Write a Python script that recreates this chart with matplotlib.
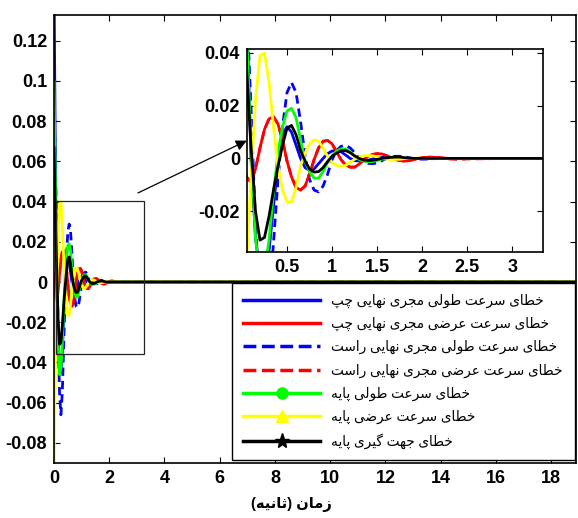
import matplotlib
matplotlib.use('Agg')
import matplotlib.pyplot as plt
import numpy as np
from matplotlib.lines import Line2D
from matplotlib.patches import Rectangle

plt.rcParams['font.family'] = ['Liberation Sans', 'DejaVu Sans']
plt.rcParams['axes.unicode_minus'] = False

# time samples (s)
t = np.concatenate([np.round(np.arange(0, 2.001, 0.05), 2), [2.1, 2.2, 2.3, 2.4, 2.5, 3.0, 19.0]])

# series
v_left_lon = [0.15, 0.06, 0.0, -0.03, -0.043, -0.045, -0.035, -0.018, -0.002, 0.009,
              0.012, 0.010, 0.005, 0.0, -0.0035, -0.0045, -0.004, -0.002, 0.0, 0.0018,
              0.0028, 0.003, 0.0025, 0.0013, 0.0, -0.0008, -0.001, -0.001, -0.0007, -0.0002,
              0.0002, 0.0004, 0.0004, 0.0002, 0.0, -0.0001, -0.0002, -0.0001, 0.0, 0.0,
              0.0, 0, 0, 0, 0, 0, 0, 0]
v_left_lat = [0.004, -0.007, -0.009, -0.004, 0.004, 0.011, 0.015, 0.0158, 0.013, 0.007,
              -0.001, -0.007, -0.011, -0.012, -0.0105, -0.006, -0.0005, 0.004, 0.0065, 0.0068,
              0.0055, 0.0025, -0.0005, -0.0025, -0.0033, -0.0033, -0.0022, -0.0005, 0.0008, 0.0015,
              0.0018, 0.0017, 0.0011, 0.0003, -0.0004, -0.0008, -0.001, -0.0009, -0.0005, 0.0,
              0.0003, 0.0005, 0.0002, 0, 0, 0, 0, 0]
v_right_lon = [0.087, 0.06, 0.02, -0.025, -0.055, -0.066, -0.055, -0.032, -0.008, 0.012,
               0.025, 0.0288, 0.025, 0.014, 0.001, -0.008, -0.012, -0.0127, -0.0105, -0.006,
               -0.0005, 0.003, 0.0046, 0.0049, 0.004, 0.0022, 0.0002, -0.0012, -0.0019, -0.002,
               -0.0017, -0.0009, -0.0001, 0.0005, 0.0008, 0.0008, 0.0007, 0.0003, 0.0, -0.0002,
               -0.0003, -0.0002, 0.0001, 0, 0, 0, 0, 0]
v_right_lat = [0.004, -0.007, -0.009, -0.004, 0.004, 0.011, 0.015, 0.0158, 0.013, 0.007,
               -0.001, -0.007, -0.011, -0.012, -0.0105, -0.006, -0.0005, 0.004, 0.0065, 0.0068,
               0.0055, 0.0025, -0.0005, -0.0025, -0.0033, -0.0033, -0.0022, -0.0005, 0.0008, 0.0015,
               0.0018, 0.0017, 0.0011, 0.0003, -0.0004, -0.0008, -0.001, -0.0009, -0.0005, 0.0,
               0.0003, 0.0005, 0.0003, -0.0002, -0.0004, -0.0002, 0, 0]
v_base_lon = [0.0995, 0.05, 0.005, -0.03, -0.046, -0.043, -0.031, -0.013, 0.002, 0.012,
              0.018, 0.019, 0.0155, 0.007, -0.001, -0.005, -0.0075, -0.0075, -0.005, -0.0015,
              0.001, 0.0028, 0.0036, 0.0036, 0.0025, 0.0008, -0.0004, -0.001, -0.0012, -0.0012,
              -0.0008, -0.0003, 0.0001, 0.0003, 0.0004, 0.0004, 0.0002, 0.0, -0.0001, -0.0001,
              0.0, 0, 0, 0, 0, 0, 0, 0]
v_base_lat = [-0.095, -0.04, -0.008, 0.022, 0.039, 0.040, 0.029, 0.012, -0.003, -0.012,
              -0.0165, -0.0165, -0.011, -0.003, 0.002, 0.0055, 0.007, 0.0065, 0.004, 0.0008,
              -0.0015, -0.0027, -0.003, -0.0027, -0.0015, -0.0003, 0.0006, 0.001, 0.0011, 0.001,
              0.0005, 0.0, -0.0003, -0.0004, -0.0004, -0.0003, -0.0001, 0.0, 0.0001, 0.0001,
              0.0, 0, 0, 0, 0, 0, 0, 0]
v_base_yaw = [0.0667, 0.035, 0.005, -0.02, -0.031, -0.030, -0.022, -0.012, -0.003, 0.005,
              0.0115, 0.0125, 0.009, 0.003, -0.001, -0.004, -0.0052, -0.005, -0.0035, -0.0012,
              0.0008, 0.002, 0.0029, 0.003, 0.0022, 0.001, 0.0, -0.0006, -0.0008, -0.0007,
              -0.0004, 0.0, 0.0002, 0.0004, 0.0005, 0.0005, 0.0003, 0.0001, 0.0, 0.0,
              0.0, 0, 0, 0, 0, 0, 0, 0]

labels = ['خطای سرعت طولی مجری نهایی چپ',
          'خطای سرعت عرضی مجری نهایی چپ',
          'خطای سرعت طولی مجری نهایی راست',
          'خطای سرعت عرضی مجری نهایی راست',
          'خطای سرعت طولی پایه',
          'خطای سرعت عرضی پایه',
          'خطای جهت گیری پایه']
xlabel = 'زمان (ثانیه)'

main_xticks = [0, 2, 4, 6, 8, 10, 12, 14, 16, 18]
main_yticks = [-0.08, -0.06, -0.04, -0.02, 0, 0.02, 0.04, 0.06, 0.08, 0.1, 0.12]
main_ylabels = ['-0.08', '-0.06', '-0.04', '-0.02', '0', '0.02', '0.04', '0.06', '0.08', '0.1', '0.12']
ins_xticks = [0.5, 1, 1.5, 2, 2.5, 3]
ins_yticks = [-0.02, 0, 0.02, 0.04]
ins_ylabels = ['-0.02', '0', '0.02', '0.04']

# matplotlib has no arabic shaping, so pick presentation forms by hand
# (isolated, final, initial, medial)
FORMS = {
    'ا': ('\uFE8D', '\uFE8E', None, None),
    'ت': ('\uFE95', '\uFE96', '\uFE97', '\uFE98'),
    'ث': ('\uFE99', '\uFE9A', '\uFE9B', '\uFE9C'),
    'ج': ('\uFE9D', '\uFE9E', '\uFE9F', '\uFEA0'),
    'خ': ('\uFEA5', '\uFEA6', '\uFEA7', '\uFEA8'),
    'ر': ('\uFEAD', '\uFEAE', None, None),
    'ز': ('\uFEAF', '\uFEB0', None, None),
    'س': ('\uFEB1', '\uFEB2', '\uFEB3', '\uFEB4'),
    'ض': ('\uFEBD', '\uFEBE', '\uFEBF', '\uFEC0'),
    'ط': ('\uFEC1', '\uFEC2', '\uFEC3', '\uFEC4'),
    'ع': ('\uFEC9', '\uFECA', '\uFECB', '\uFECC'),
    'ل': ('\uFEDD', '\uFEDE', '\uFEDF', '\uFEE0'),
    'م': ('\uFEE1', '\uFEE2', '\uFEE3', '\uFEE4'),
    'ن': ('\uFEE5', '\uFEE6', '\uFEE7', '\uFEE8'),
    'ه': ('\uFEE9', '\uFEEA', '\uFEEB', '\uFEEC'),
    'و': ('\uFEED', '\uFEEE', None, None),
    'ی': ('\uFBFC', '\uFBFD', '\uFBFE', '\uFBFF'),
    'پ': ('\uFB56', '\uFB57', '\uFB58', '\uFB59'),
    'چ': ('\uFB7A', '\uFB7B', '\uFB7C', '\uFB7D'),
    'گ': ('\uFB92', '\uFB93', '\uFB94', '\uFB95'),
}


def fa(s):
    out = []
    for i, c in enumerate(s):
        if c not in FORMS:
            out.append(c)
            continue
        prev = s[i - 1] if i > 0 else ''
        nxt = s[i + 1] if i + 1 < len(s) else ''
        jp = prev in FORMS and FORMS[prev][2] is not None
        jn = FORMS[c][2] is not None and nxt in FORMS
        iso, fin, ini, med = FORMS[c]
        if jp and jn:
            out.append(med)
        elif jp:
            out.append(fin)
        elif jn:
            out.append(ini)
        else:
            out.append(iso)
    return ''.join(out)[::-1].translate(str.maketrans('()', ')('))


series = [v_left_lon, v_left_lat, v_right_lon, v_right_lat, v_base_lon, v_base_lat, v_base_yaw]
colors = ['#0000ff', '#ff0000', '#0000ff', '#ff0000', '#00ff00', '#ffff00', '#000000']
styles = ['-', '-', '--', '--', '-', '-', '-']
markers = [None, None, None, None, 'o', '^', '*']
msizes = [0, 0, 0, 0, 8, 9, 11]

fig = plt.figure(figsize=(5.78, 5.18), dpi=100)
ax = fig.add_axes([54 / 578, 55 / 518, 522 / 578, 448 / 518])
ins = fig.add_axes([247 / 578, 266 / 518, 296 / 578, 203 / 518])

for a in (ax, ins):
    for v, c, ls in zip(series, colors, styles):
        if ls == '--':
            a.plot(t, v, color=c, ls=ls, lw=2, dashes=(3, 1.8))
        else:
            a.plot(t, v, color=c, ls=ls, lw=2)
    a.tick_params(direction='in', top=True, right=True, length=4, width=0.8,
                  labelsize=13, pad=5)
    for sp in a.spines.values():
        sp.set_linewidth(1.2)

ax.set_xlim(0, 18.9)
ax.set_ylim(-0.09, 0.1328)
ax.set_xticks(main_xticks)
ax.set_xticklabels([str(x) for x in main_xticks], fontweight='bold')
ax.set_yticks(main_yticks)
ax.set_yticklabels(main_ylabels, fontweight='bold')

ins.set_xlim(0.056, 3.34)
ins.set_ylim(-0.0355, 0.0415)
ins.set_xticks(ins_xticks)
ins.set_xticklabels([('%g' % x) for x in ins_xticks], fontweight='bold')
ins.set_yticks(ins_yticks)
ins.set_yticklabels(ins_ylabels, fontweight='bold')

ax.set_xlabel(fa(xlabel), fontsize=10.5, fontweight='bold')
ax.xaxis.set_label_coords(0.455, -0.077)

# zoom box and arrow
ax.add_patch(Rectangle((0.06, -0.036), 3.21, 0.0765, fill=False, ec='0.15', lw=0.9, zorder=5))
ax.annotate('', xy=(6.98, 0.0703), xytext=(3.04, 0.0443),
            arrowprops=dict(arrowstyle='-|>', color='k', lw=0.9, mutation_scale=16,
                            shrinkA=0, shrinkB=0))

handles = [Line2D([], [], color=c, ls=ls, lw=2.5, marker=m, markersize=ms,
                  markerfacecolor=c, markeredgecolor=c)
           for c, ls, m, ms in zip(colors, styles, markers, msizes)]
leg = ax.legend(handles, [fa(s) for s in labels], loc='upper left',
                bbox_to_anchor=(232 / 578, 60 / 518, 343 / 578, 175 / 518),
                bbox_transform=fig.transFigure, mode='expand', borderaxespad=0,
                fontsize=9.8, handlelength=5.7, labelspacing=0.66, handletextpad=0.8,
                fancybox=False, framealpha=1, edgecolor='k', borderpad=0.8)
leg.get_frame().set_linewidth(1.0)

fig.savefig('out.png', dpi=100)
